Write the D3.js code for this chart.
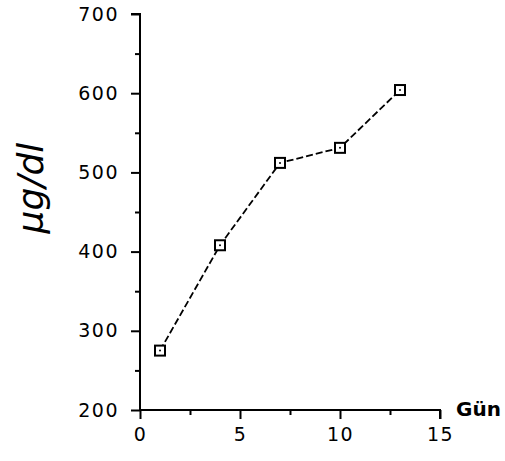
<!DOCTYPE html>
<html>
  <head>
    <meta charset="utf-8">
    <script src="https://d3js.org/d3.v7.min.js"></script>
    <style>
      body { margin: 0; background: #fff; }
      text { font-family: "DejaVu Sans", sans-serif; fill: #000; }
    </style>
  </head>
  <body>
    <script>
      var days = [1, 4, 7, 10, 13];
      var values = [275, 408, 512, 531, 604];
      var xTicks = [0, 5, 10, 15];
      var yTicks = [200, 300, 400, 500, 600, 700];

      var width = 505;
      var height = 461;

      var svg = d3.select("body")
        .append("svg")
        .attr("width", width)
        .attr("height", height);

      var x = d3.scaleLinear().domain([0, 15]).range([140, 440]);
      var y = d3.scaleLinear().domain([200, 700]).range([410, 14]);

      // x axis, ticks pointing down
      var xAxis = svg.append("g")
        .attr("transform", "translate(0,410)")
        .call(d3.axisBottom(x).tickValues(xTicks).tickSize(9).tickSizeOuter(0).tickPadding(9));
      xAxis.selectAll("line, path").attr("stroke", "#000").attr("stroke-width", 2);
      xAxis.select(".domain").attr("d", "M140,0H440V9");
      xAxis.selectAll("text").attr("font-size", 19).attr("letter-spacing", 1.5);

      svg.append("g")
        .attr("transform", "translate(0,410)")
        .call(d3.axisBottom(x).tickValues([2.5, 7.5, 12.5]).tickSize(5).tickFormat(""))
        .call(function(g) { g.select(".domain").remove(); })
        .selectAll("line").attr("stroke", "#000").attr("stroke-width", 2);

      // y axis, ticks pointing left
      var yAxis = svg.append("g")
        .attr("transform", "translate(140,0)")
        .call(d3.axisLeft(y).tickValues(yTicks).tickSize(9).tickSizeOuter(0).tickPadding(12));
      yAxis.selectAll("line, path").attr("stroke", "#000").attr("stroke-width", 2);
      yAxis.select(".domain").attr("d", "M-9,14H0V410");
      yAxis.selectAll("text").attr("font-size", 19).attr("letter-spacing", 1.5);

      svg.append("g")
        .attr("transform", "translate(140,0)")
        .call(d3.axisLeft(y).tickValues([250, 350, 450, 550, 650]).tickSize(5).tickFormat(""))
        .call(function(g) { g.select(".domain").remove(); })
        .selectAll("line").attr("stroke", "#000").attr("stroke-width", 2);

      svg.append("text")
        .attr("x", 456)
        .attr("y", 416)
        .attr("font-size", 20)
        .attr("font-weight", "bold")
        .text("Gün");

      svg.append("text")
        .attr("transform", "translate(43,188) rotate(-90)")
        .attr("text-anchor", "middle")
        .attr("font-size", 36)
        .attr("font-style", "italic")
        .text("μg/dl");

      var line = d3.line()
        .x(function(d, i) { return x(days[i]); })
        .y(function(d) { return y(d); });

      svg.append("path")
        .datum(values)
        .attr("fill", "none")
        .attr("stroke", "#000")
        .attr("stroke-width", 1.8)
        .attr("stroke-dasharray", "7,3")
        .attr("d", line);

      var pts = svg.append("g");
      pts.selectAll("rect")
        .data(values)
        .enter()
        .append("rect")
        .attr("x", function(d, i) { return x(days[i]) - 5; })
        .attr("y", function(d) { return y(d) - 5; })
        .attr("width", 10)
        .attr("height", 10)
        .attr("fill", "#fff")
        .attr("stroke", "#000")
        .attr("stroke-width", 2);
      pts.selectAll("circle")
        .data(values)
        .enter()
        .append("circle")
        .attr("cx", function(d, i) { return x(days[i]); })
        .attr("cy", function(d) { return y(d); })
        .attr("r", 1)
        .attr("fill", "#000");
    </script>
  </body>
</html>
